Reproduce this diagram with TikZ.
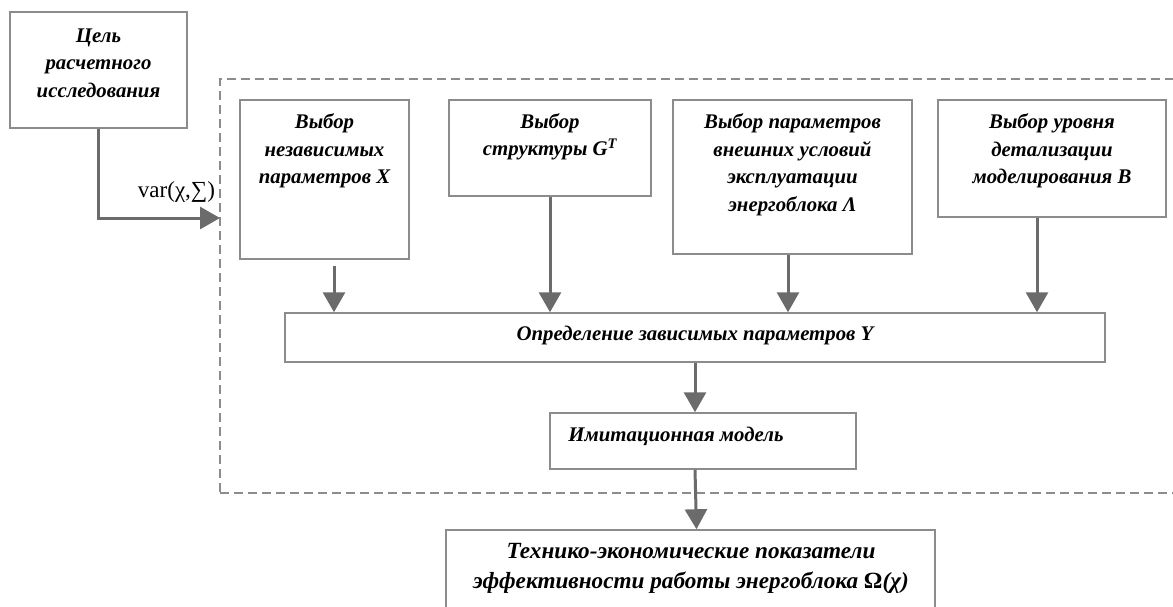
\documentclass[tikz,border=0pt]{standalone}
\usepackage{fontspec}
\setmainfont{Liberation Serif}
\usetikzlibrary{arrows.meta,calc}
\definecolor{boxc}{HTML}{8C8C8C}
\definecolor{arrc}{HTML}{6B6B6B}
\begin{document}
\begin{tikzpicture}[x=1pt,y=-1pt,
 box/.style={draw=boxc,line width=1.5pt,inner sep=0pt,minimum width=#1},
 frame/.style={draw=boxc,line width=1.5pt,dash pattern=on 9pt off 5pt,inner sep=0pt},
 txt/.style={font=\fontsize{20.8}{27.5}\selectfont\bfseries\itshape,align=center,inner sep=0pt},
 bigtxt/.style={font=\fontsize{23.2}{30}\selectfont\bfseries\itshape,align=center,inner sep=0pt},
 lbl/.style={font=\fontsize{23}{26}\selectfont,inner sep=0pt},
 arr/.style={draw=arrc,line width=3pt,-{Triangle[length=20pt,width=22pt]}},
 ]
\useasboundingbox (0,0) rectangle (1173,606);
\clip (0,0) rectangle (1173,606);

% frame
\node[frame,minimum width=970pt,minimum height=414pt] (frm) at (705,286) {};

% boxes
\node[box=177pt,minimum height=116pt] (goal) at (98.5,70) {};
\node[box=169pt,minimum height=159pt] (bX) at (324.5,179.5) {};
\node[box=202pt,minimum height=96pt] (bG) at (550,148) {};
\node[box=239pt,minimum height=154pt] (bL) at (792.5,177) {};
\node[box=228pt,minimum height=117pt] (bB) at (1052,158.5) {};
\node[box=820pt,minimum height=49pt] (bY) at (695,337.5) {};
\node[box=306pt,minimum height=56pt] (bIm) at (703,441) {};
\node[box=489pt,minimum height=110pt] (bBot) at (690.5,585) {};

% texts
\node[txt] (tgoal) at (98.5,63) {Цель\\расчетного\\исследования};
\node[txt] (tX) at (324.5,151) {Выбор\\независимых\\параметров X};
\node[txt] (tG) at (550,137) {Выбор\\структуры G\textsuperscript{T}};
\node[txt] (tL) at (792.5,165) {Выбор параметров\\внешних условий\\эксплуатации\\энергоблока Λ};
\node[txt] (tB) at (1052,151) {Выбор уровня\\детализации\\моделирования B};
\node[txt] (tY) at (695,335) {Определение зависимых параметров Y};
\node[txt] (tIm) at (676,436) {Имитационная модель};
\node[bigtxt] (tBot) at (691,568) {Технико-экономические показатели\\эффективности работы энергоблока {\upshape Ω}(χ)};
\node[lbl] (tvar) at (176.5,192) {var(χ,∑)};

% connectors
\coordinate (vin) at (220,218);
\draw[arr] (goal.south) |- (vin);
\path (bX.south) ++(9.5,6) coordinate (aX);
\draw[arr] (aX) -- (aX |- bY.north);
\draw[arr] (bG.south) -- (bG.south |- bY.north);
\path (bL.south) ++(-4.5,0) coordinate (aL);
\draw[arr] (aL) -- (aL |- bY.north);
\path (bB.south) ++(-15,0) coordinate (aB);
\draw[arr] (aB) -- (aB |- bY.north);
\draw[arr] (bY.south) -- (bY.south |- bIm.north);
\coordinate (imo) at (bIm.south -| bY.south);
\draw[arr] (imo) -- ([xshift=6pt]bBot.north);
\end{tikzpicture}
\end{document}
